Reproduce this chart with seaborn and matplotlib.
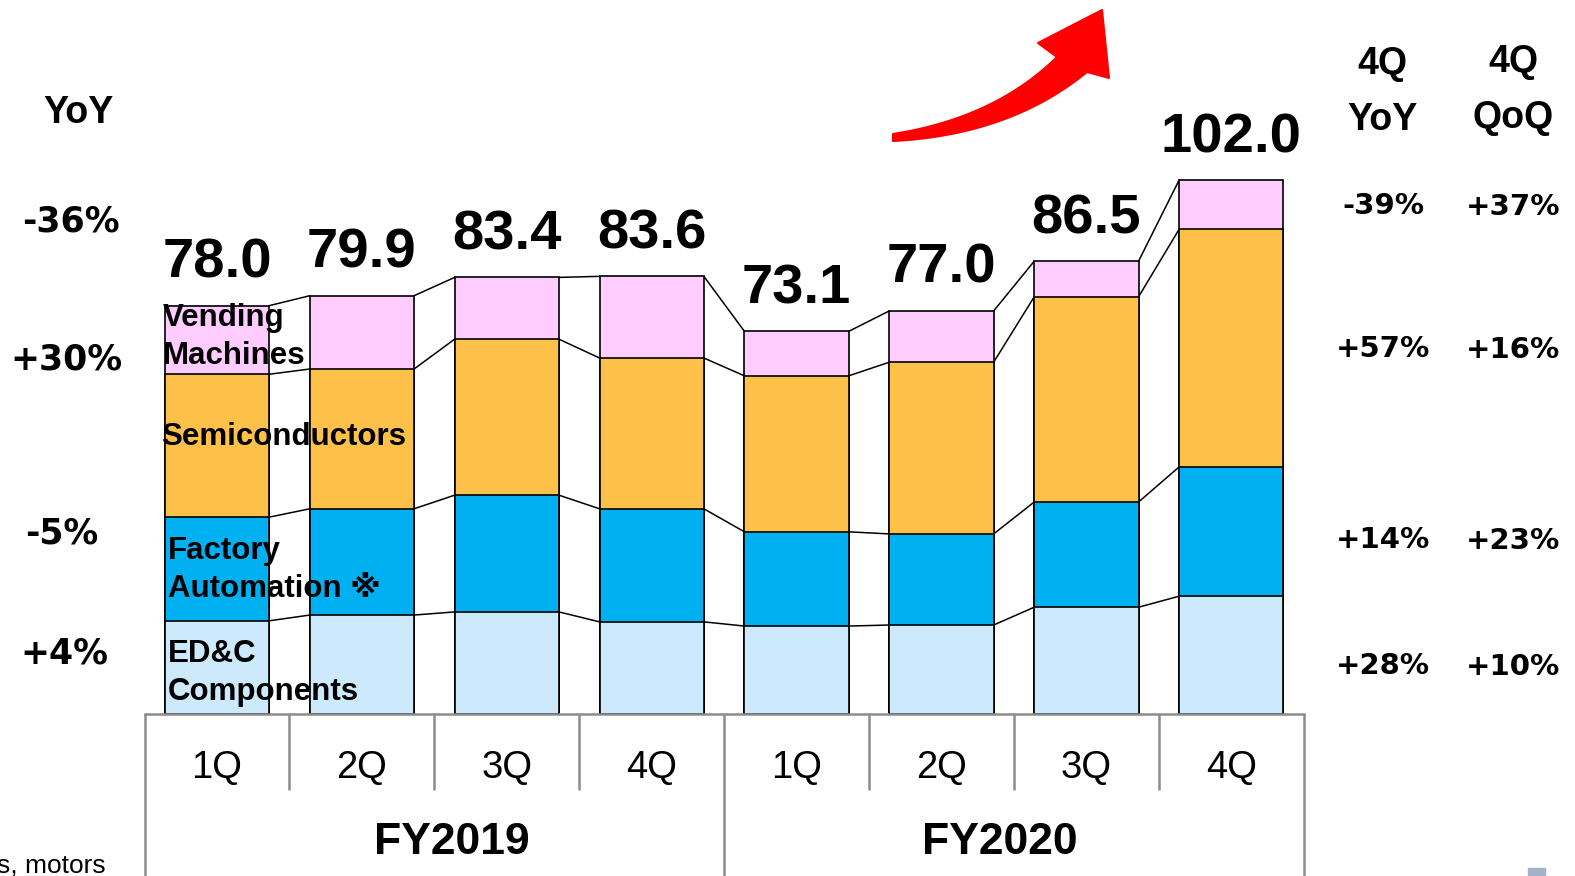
import numpy as np
import pandas as pd
import seaborn as sns
import matplotlib.pyplot as plt
from matplotlib.patches import Polygon, Rectangle

# Datos (miles de millones de yenes)
periodos = ['FY2019 1Q', 'FY2019 2Q', 'FY2019 3Q', 'FY2019 4Q',
            'FY2020 1Q', 'FY2020 2Q', 'FY2020 3Q', 'FY2020 4Q']
trimestres = ['1Q', '2Q', '3Q', '4Q', '1Q', '2Q', '3Q', '4Q']
anios = ['FY2019', 'FY2020']
edc = [17.8, 18.9, 19.5, 17.6, 16.8, 17.0, 20.4, 22.5]
fa = [19.8, 20.3, 22.3, 21.6, 18.0, 17.4, 20.1, 24.7]
semi = [27.3, 26.7, 29.8, 28.8, 29.8, 32.8, 39.2, 45.4]
vending = [13.1, 14.0, 11.8, 15.6, 8.5, 9.8, 6.8, 9.4]
totales = [78.0, 79.9, 83.4, 83.6, 73.1, 77.0, 86.5, 102.0]

yoy_izq = ['-36%', '+30%', '-5%', '+4%']
yoy_4q = ['-39%', '+57%', '+14%', '+28%']
qoq_4q = ['+37%', '+16%', '+23%', '+10%']

colores = {'edc': '#CCEAFC', 'fa': '#00B0F0', 'semi': '#FDC049', 'vending': '#FFCCFF'}

df = pd.DataFrame({'periodo': periodos, 'edc': edc, 'fa': fa, 'semi': semi, 'vending': vending})
df['c_edc'] = df['edc']
df['c_fa'] = df['c_edc'] + df['fa']
df['c_semi'] = df['c_fa'] + df['semi']
df['c_vending'] = df['c_semi'] + df['vending']

W, H = 1575, 876
fig = plt.figure(figsize=(W / 100, H / 100), dpi=100)
ax = fig.add_axes([0, 0, 1, 1])

# escala: pixel -> datos
X0, PASO = 217, 144.9
BASE, ESC = 714, 5.235
def px(x):
    return (x - X0) / PASO
def py(y):
    return (BASE - y) / ESC

ANCHO = 0.72
# barras apiladas (de arriba hacia abajo para que se superpongan)
for col, c in [('c_vending', 'vending'), ('c_semi', 'semi'), ('c_fa', 'fa'), ('c_edc', 'edc')]:
    sns.barplot(data=df, x='periodo', y=col, order=periodos, color=colores[c],
                saturation=1, errorbar=None, width=ANCHO, edgecolor='black',
                linewidth=1.2, ax=ax, zorder=3)

# lineas de conexion entre barras
for col in ['c_edc', 'c_fa', 'c_semi', 'c_vending']:
    v = df[col].values
    for i in range(len(v) - 1):
        ax.plot([i + ANCHO / 2, i + 1 - ANCHO / 2], [v[i], v[i + 1]], color='black', lw=1.1, zorder=2)

ax.set_xlim(px(0), px(W))
ax.set_ylim(py(H), py(0))
ax.set_axis_off()

fuente = ['Liberation Sans', 'DejaVu Sans']

# totales
for i, t in enumerate(totales):
    ax.text(i, t + 5.35, f'{t:.1f}', ha='center', va='baseline', fontsize=40.5,
            fontweight='bold', family=fuente, zorder=5)

# etiquetas de segmentos
ax.text(px(163), py(337), 'Vending\nMachines', ha='left', va='center', fontsize=22.5,
        fontweight='bold', family=fuente, linespacing=1.35, zorder=5)
ax.text(px(161), py(437), 'Semiconductors', ha='left', va='center', fontsize=22.5,
        fontweight='bold', family=fuente, zorder=5)
ax.text(px(168), py(570), 'Factory\nAutomation \u203b', ha='left', va='center', fontsize=22.5,
        fontweight='bold', family=fuente, linespacing=1.35, zorder=5)
ax.text(px(168), py(673), 'ED&C\nComponents', ha='left', va='center', fontsize=22.5,
        fontweight='bold', family=fuente, linespacing=1.35, zorder=5)

# tabla de categorias
gris = '#8C8C8C'
ax.plot([-0.5, 7.5], [0, 0], color=gris, lw=1.8, zorder=4)
ax.vlines([i + 0.5 for i in range(7) if i != 3], py(790), 0, color=gris, lw=1.8)
ax.vlines([-0.5, 3.5, 7.5], py(H), 0, color=gris, lw=1.8)
for i, q in enumerate(trimestres):
    ax.text(i, py(768), q, ha='center', va='center', fontsize=27.5, family=fuente)
for x, a in zip([1.62, 5.4], anios):
    ax.text(x, py(842), a, ha='center', va='center', fontsize=32, fontweight='bold', family=fuente)

# columna YoY izquierda
ax.text(px(78), py(113), 'YoY', ha='center', va='center', fontsize=27, fontweight='bold', family=fuente)
for (x, y), s in zip([(71, 221), (66, 359), (62, 534), (64, 653)], yoy_izq):
    ax.text(px(x), py(y), s, ha='center', va='center', fontsize=25, fontweight='bold', family='DejaVu Sans')

# columnas 4Q derecha
ax.text(px(1382), py(92), '4Q\nYoY', ha='center', va='center', fontsize=27, fontweight='bold',
        family=fuente, linespacing=1.75)
ax.text(px(1513), py(90), '4Q\nQoQ', ha='center', va='center', fontsize=27, fontweight='bold',
        family=fuente, linespacing=1.75)
for y, a, b in zip([206, 349, 540, 666], yoy_4q, qoq_4q):
    ax.text(px(1383), py(y), a, ha='center', va='center', fontsize=21, fontweight='bold', family='DejaVu Sans')
    ax.text(px(1513), py(y + 1), b, ha='center', va='center', fontsize=21, fontweight='bold', family='DejaVu Sans')

# restos recortados de la diapositiva
ax.text(px(-3), py(873), 's, motors', ha='left', va='baseline', fontsize=19, family=fuente)
fig.patches.append(Rectangle((1528 / 100, 0), 0.17, 0.08, transform=fig.dpi_scale_trans,
                             color='#A3B2C6'))

# flecha roja curva
t = np.linspace(0, 1, 40)[:, None]
def bez(p0, c, p2):
    p0, c, p2 = map(np.array, (p0, c, p2))
    return (1 - t) ** 2 * p0 + 2 * (1 - t) * t * c + t ** 2 * p2
arriba = bez((893, 134), (995, 118), (1057, 57))
abajo = bez((893, 141), (1010, 135), (1087, 72))
cabeza = np.array([(1038, 43), (1102, 10), (1109, 78)])
pts = np.vstack([arriba, cabeza, abajo[::-1]])
pts = np.column_stack([pts[:, 0] / 100, (H - pts[:, 1]) / 100])
fig.patches.append(Polygon(pts, closed=True, transform=fig.dpi_scale_trans,
                           facecolor='#FF0000', edgecolor='#FF0000', lw=1.5, joinstyle='round'))

fig.savefig('out.png', dpi=100)
